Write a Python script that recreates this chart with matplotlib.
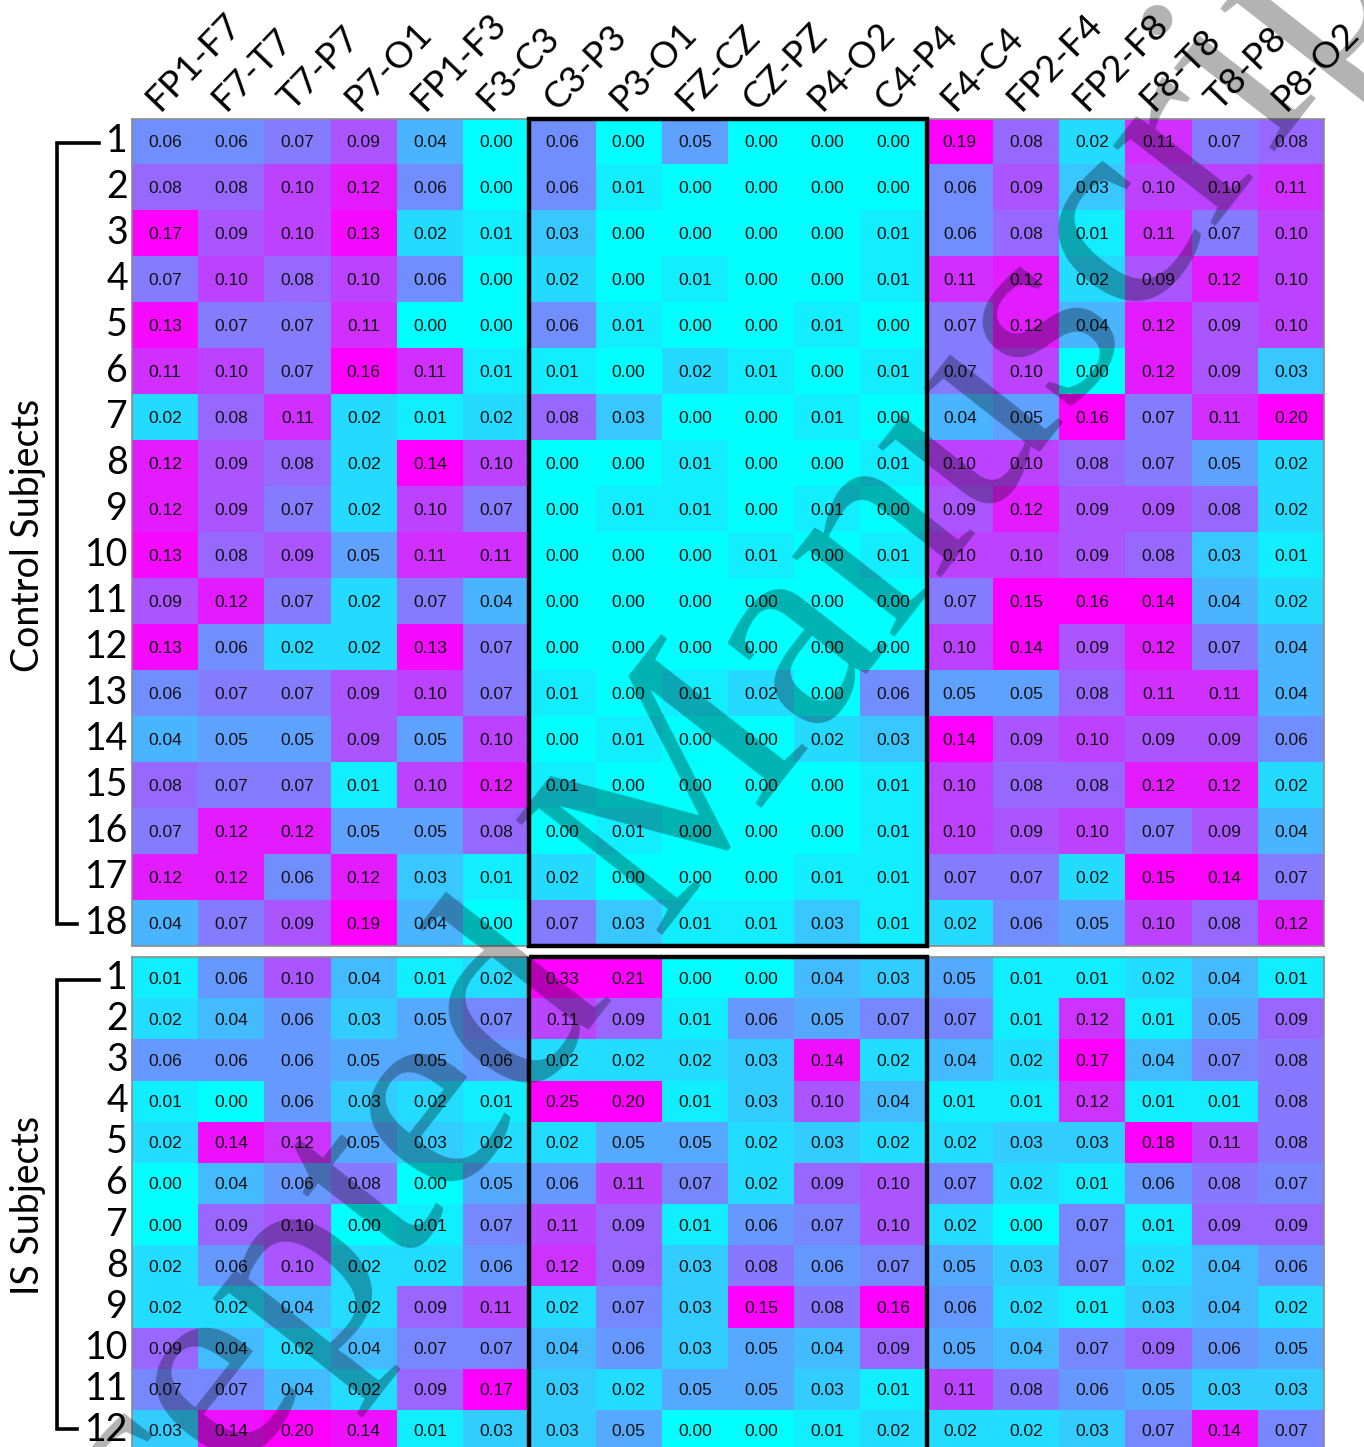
import numpy as np
import matplotlib
matplotlib.use("Agg")
import matplotlib.pyplot as plt
from matplotlib.patches import Rectangle
from matplotlib.lines import Line2D

channels = ["FP1-F7", "F7-T7", "T7-P7", "P7-O1", "FP1-F3", "F3-C3",
            "C3-P3", "P3-O1", "FZ-CZ", "CZ-PZ", "P4-O2", "C4-P4",
            "F4-C4", "FP2-F4", "FP2-F8", "F8-T8", "T8-P8", "P8-O2"]

control = [
    [0.06, 0.06, 0.07, 0.09, 0.04, 0.00, 0.06, 0.00, 0.05, 0.00, 0.00, 0.00, 0.19, 0.08, 0.02, 0.11, 0.07, 0.08],
    [0.08, 0.08, 0.10, 0.12, 0.06, 0.00, 0.06, 0.01, 0.00, 0.00, 0.00, 0.00, 0.06, 0.09, 0.03, 0.10, 0.10, 0.11],
    [0.17, 0.09, 0.10, 0.13, 0.02, 0.01, 0.03, 0.00, 0.00, 0.00, 0.00, 0.01, 0.06, 0.08, 0.01, 0.11, 0.07, 0.10],
    [0.07, 0.10, 0.08, 0.10, 0.06, 0.00, 0.02, 0.00, 0.01, 0.00, 0.00, 0.01, 0.11, 0.12, 0.02, 0.09, 0.12, 0.10],
    [0.13, 0.07, 0.07, 0.11, 0.00, 0.00, 0.06, 0.01, 0.00, 0.00, 0.01, 0.00, 0.07, 0.12, 0.04, 0.12, 0.09, 0.10],
    [0.11, 0.10, 0.07, 0.16, 0.11, 0.01, 0.01, 0.00, 0.02, 0.01, 0.00, 0.01, 0.07, 0.10, 0.00, 0.12, 0.09, 0.03],
    [0.02, 0.08, 0.11, 0.02, 0.01, 0.02, 0.08, 0.03, 0.00, 0.00, 0.01, 0.00, 0.04, 0.05, 0.16, 0.07, 0.11, 0.20],
    [0.12, 0.09, 0.08, 0.02, 0.14, 0.10, 0.00, 0.00, 0.01, 0.00, 0.00, 0.01, 0.10, 0.10, 0.08, 0.07, 0.05, 0.02],
    [0.12, 0.09, 0.07, 0.02, 0.10, 0.07, 0.00, 0.01, 0.01, 0.00, 0.01, 0.00, 0.09, 0.12, 0.09, 0.09, 0.08, 0.02],
    [0.13, 0.08, 0.09, 0.05, 0.11, 0.11, 0.00, 0.00, 0.00, 0.01, 0.00, 0.01, 0.10, 0.10, 0.09, 0.08, 0.03, 0.01],
    [0.09, 0.12, 0.07, 0.02, 0.07, 0.04, 0.00, 0.00, 0.00, 0.00, 0.00, 0.00, 0.07, 0.15, 0.16, 0.14, 0.04, 0.02],
    [0.13, 0.06, 0.02, 0.02, 0.13, 0.07, 0.00, 0.00, 0.00, 0.00, 0.00, 0.00, 0.10, 0.14, 0.09, 0.12, 0.07, 0.04],
    [0.06, 0.07, 0.07, 0.09, 0.10, 0.07, 0.01, 0.00, 0.01, 0.02, 0.00, 0.06, 0.05, 0.05, 0.08, 0.11, 0.11, 0.04],
    [0.04, 0.05, 0.05, 0.09, 0.05, 0.10, 0.00, 0.01, 0.00, 0.00, 0.02, 0.03, 0.14, 0.09, 0.10, 0.09, 0.09, 0.06],
    [0.08, 0.07, 0.07, 0.01, 0.10, 0.12, 0.01, 0.00, 0.00, 0.00, 0.00, 0.01, 0.10, 0.08, 0.08, 0.12, 0.12, 0.02],
    [0.07, 0.12, 0.12, 0.05, 0.05, 0.08, 0.00, 0.01, 0.00, 0.00, 0.00, 0.01, 0.10, 0.09, 0.10, 0.07, 0.09, 0.04],
    [0.12, 0.12, 0.06, 0.12, 0.03, 0.01, 0.02, 0.00, 0.00, 0.00, 0.01, 0.01, 0.07, 0.07, 0.02, 0.15, 0.14, 0.07],
    [0.04, 0.07, 0.09, 0.19, 0.04, 0.00, 0.07, 0.03, 0.01, 0.01, 0.03, 0.01, 0.02, 0.06, 0.05, 0.10, 0.08, 0.12],
]

is_subjects = [
    [0.01, 0.06, 0.10, 0.04, 0.01, 0.02, 0.33, 0.21, 0.00, 0.00, 0.04, 0.03, 0.05, 0.01, 0.01, 0.02, 0.04, 0.01],
    [0.02, 0.04, 0.06, 0.03, 0.05, 0.07, 0.11, 0.09, 0.01, 0.06, 0.05, 0.07, 0.07, 0.01, 0.12, 0.01, 0.05, 0.09],
    [0.06, 0.06, 0.06, 0.05, 0.05, 0.06, 0.02, 0.02, 0.02, 0.03, 0.14, 0.02, 0.04, 0.02, 0.17, 0.04, 0.07, 0.08],
    [0.01, 0.00, 0.06, 0.03, 0.02, 0.01, 0.25, 0.20, 0.01, 0.03, 0.10, 0.04, 0.01, 0.01, 0.12, 0.01, 0.01, 0.08],
    [0.02, 0.14, 0.12, 0.05, 0.03, 0.02, 0.02, 0.05, 0.05, 0.02, 0.03, 0.02, 0.02, 0.03, 0.03, 0.18, 0.11, 0.08],
    [0.00, 0.04, 0.06, 0.08, 0.00, 0.05, 0.06, 0.11, 0.07, 0.02, 0.09, 0.10, 0.07, 0.02, 0.01, 0.06, 0.08, 0.07],
    [0.00, 0.09, 0.10, 0.00, 0.01, 0.07, 0.11, 0.09, 0.01, 0.06, 0.07, 0.10, 0.02, 0.00, 0.07, 0.01, 0.09, 0.09],
    [0.02, 0.06, 0.10, 0.02, 0.02, 0.06, 0.12, 0.09, 0.03, 0.08, 0.06, 0.07, 0.05, 0.03, 0.07, 0.02, 0.04, 0.06],
    [0.02, 0.02, 0.04, 0.02, 0.09, 0.11, 0.02, 0.07, 0.03, 0.15, 0.08, 0.16, 0.06, 0.02, 0.01, 0.03, 0.04, 0.02],
    [0.09, 0.04, 0.02, 0.04, 0.07, 0.07, 0.04, 0.06, 0.03, 0.05, 0.04, 0.09, 0.05, 0.04, 0.07, 0.09, 0.06, 0.05],
    [0.07, 0.07, 0.04, 0.02, 0.09, 0.17, 0.03, 0.02, 0.05, 0.05, 0.03, 0.01, 0.11, 0.08, 0.06, 0.05, 0.03, 0.03],
    [0.03, 0.14, 0.20, 0.14, 0.01, 0.03, 0.03, 0.05, 0.00, 0.00, 0.01, 0.02, 0.02, 0.02, 0.03, 0.07, 0.14, 0.07],
]

control_label = "Control Subjects"
is_label = "IS Subjects"
watermark = "Accepted Manuscript"

W, H = 1364, 1447
fig = plt.figure(figsize=(W / 100, H / 100), dpi=100)

def px_rect(x0, y0, x1, y1):
    return [x0 / W, 1 - y1 / H, (x1 - x0) / W, (y1 - y0) / H]

ax_top = fig.add_axes(px_rect(132, 118.5, 1324, 946))
ax_bot = fig.add_axes(px_rect(132, 957, 1324, 1451))

label_font = "Lato"

def draw_panel(ax, data, vmax):
    arr = np.array(data)
    nr, nc = arr.shape
    ax.pcolormesh(np.arange(nc + 1), np.arange(nr + 1), arr, cmap="cool",
                  vmin=0, vmax=vmax, shading="flat")
    ax.set_xlim(0, nc)
    ax.set_ylim(nr, 0)
    ax.set_xticks([])
    ax.set_yticks([])
    for s in ax.spines.values():
        s.set_color("#8c8c8c")
        s.set_linewidth(1.2)
    for i in range(nr):
        for j in range(nc):
            ax.text(j + 0.5, i + 0.5, f"{arr[i, j]:.2f}", ha="center",
                    va="center_baseline", fontsize=12.5,
                    family="Liberation Sans", color="#111111")
        ax.text(-0.06, i + 0.5, str(i + 1), ha="right", va="center",
                fontsize=27, family=label_font, clip_on=False)
    ax.add_patch(Rectangle((6, 0), 6, nr, fill=False, edgecolor="black",
                           linewidth=3.2, clip_on=False, zorder=5))
    return nr

n_top = draw_panel(ax_top, control, 0.135)
n_bot = draw_panel(ax_bot, is_subjects, 0.15)

for j, ch in enumerate(channels):
    ax_top.text(j + 0.42, -0.14, ch, rotation=46, rotation_mode="anchor",
                ha="left", va="baseline", fontsize=26.5, family=label_font,
                clip_on=False)

# overlay for brackets, group labels and watermark
ov = fig.add_axes([0, 0, 1, 1], zorder=10)
ov.set_xlim(0, W)
ov.set_ylim(H, 0)
ov.axis("off")
ov.patch.set_visible(False)

def bracket(y_top, y_bot, x_end_top, x_end_bot):
    ov.add_line(Line2D([x_end_top, 57, 57, x_end_bot], [y_top, y_top, y_bot, y_bot],
                       color="black", lw=2.6, solid_joinstyle="miter"))

bracket(143, 924, 99, 77)
bracket(980, 1429, 99, 77)
ov.text(28, 535, control_label, rotation=90, ha="center", va="center",
        fontsize=27, family=label_font)
ov.text(28, 1205, is_label, rotation=90, ha="center", va="center",
        fontsize=27, family=label_font)

ov.text(650, 840, watermark, rotation=52, ha="center", va="center",
        fontsize=205, family="Liberation Serif", color="black", alpha=0.3,
        clip_on=True)

fig.savefig("out.png", dpi=100)
